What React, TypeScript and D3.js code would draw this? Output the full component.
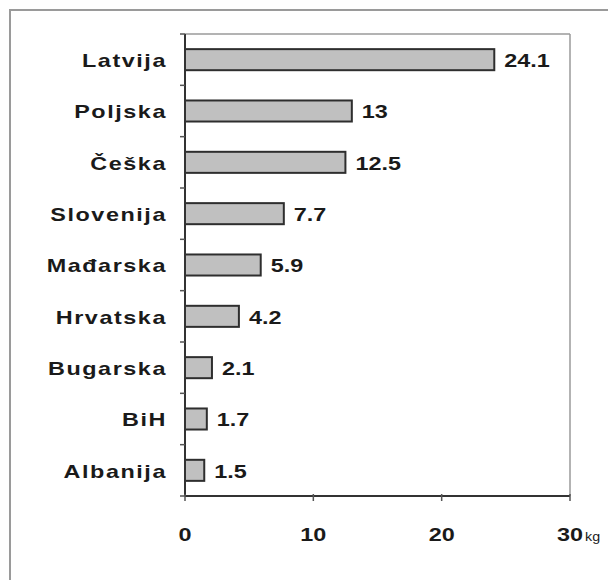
import React from "react";
import * as d3 from "d3";

const countries = ["Latvija", "Poljska", "Češka", "Slovenija", "Mađarska", "Hrvatska", "Bugarska", "BiH", "Albanija"];
const values = [24.1, 13, 12.5, 7.7, 5.9, 4.2, 2.1, 1.7, 1.5];
const valueLabels = ["24.1", "13", "12.5", "7.7", "5.9", "4.2", "2.1", "1.7", "1.5"];
const xTicks = [0, 10, 20, 30];
const unit = "kg";

const W = 608;
const H = 580;
const plot = { left: 185, right: 570, top: 34, bottom: 496 };
const SX = 1.3;
const font = "'Liberation Sans', Arial, sans-serif";

function SText({ x, y, anchor, size, spacing = 0, children }: { x: number; y: number; anchor: string; size: number; spacing?: number; children: React.ReactNode }) {
  return (
    <g transform={`translate(${x},${y}) scale(${SX},1)`}>
      <text x={0} y={0} textAnchor={anchor} fontSize={size} fontWeight="bold" fontFamily={font} fill="#1a1a1a" letterSpacing={spacing} dominantBaseline="central">
        {children}
      </text>
    </g>
  );
}

export default function App() {
  const x = d3.scaleLinear().domain([0, 30]).range([plot.left, plot.right]);
  const y = d3.scaleBand<string>().domain(countries).range([plot.top, plot.bottom]).paddingInner(0.59).paddingOuter(0.295);
  const yb = d3.scaleBand<string>().domain(countries).range([plot.top, plot.bottom]);
  const bounds = d3.range(countries.length + 1).map((i) => plot.top + i * yb.step());

  return (
    <svg width={W} height={H} style={{ position: "absolute", left: 0, top: 0, background: "#fff" }}>
      <rect x={10} y={10} width={600} height={590} fill="#fff" stroke="#9a9a9a" strokeWidth={2} />
      <line x1={plot.left} x2={plot.right} y1={plot.top} y2={plot.top} stroke="#9a9a9a" strokeWidth={1.5} />
      <line x1={plot.right} x2={plot.right} y1={plot.top} y2={plot.bottom} stroke="#9a9a9a" strokeWidth={1.5} />
      {countries.map((c, i) => (
        <rect key={c} x={x(0)} y={y(c)!} width={x(values[i]) - x(0)} height={y.bandwidth()} fill="#c0c0c0" stroke="#2e2e2e" strokeWidth={2} />
      ))}
      <line x1={plot.left} x2={plot.left} y1={plot.top} y2={plot.bottom} stroke="#333" strokeWidth={2} />
      <line x1={plot.left} x2={plot.right} y1={plot.bottom} y2={plot.bottom} stroke="#333" strokeWidth={2} />
      {bounds.map((b, i) => (
        <line key={i} x1={plot.left - 5} x2={plot.left} y1={b} y2={b} stroke="#555" strokeWidth={1.5} />
      ))}
      {xTicks.map((t) => (
        <line key={t} x1={x(t)} x2={x(t)} y1={plot.bottom - 2} y2={plot.bottom + 5} stroke="#555" strokeWidth={1.5} />
      ))}
      {countries.map((c) => (
        <SText key={c} x={167} y={y(c)! + y.bandwidth() / 2 + 1} anchor="end" size={18} spacing={1.2}>{c}</SText>
      ))}
      {countries.map((c, i) => (
        <SText key={c} x={x(values[i]) + 10} y={y(c)! + y.bandwidth() / 2 + 1} anchor="start" size={18}>{valueLabels[i]}</SText>
      ))}
      {xTicks.map((t) => (
        <SText key={t} x={x(t)} y={535} anchor="middle" size={18}>{String(t)}</SText>
      ))}
      <g transform={`translate(585,537) scale(1.1,1)`}>
        <text x={0} y={0} fontSize={13} fontFamily={font} fill="#1a1a1a" dominantBaseline="central">{unit}</text>
      </g>
    </svg>
  );
}
